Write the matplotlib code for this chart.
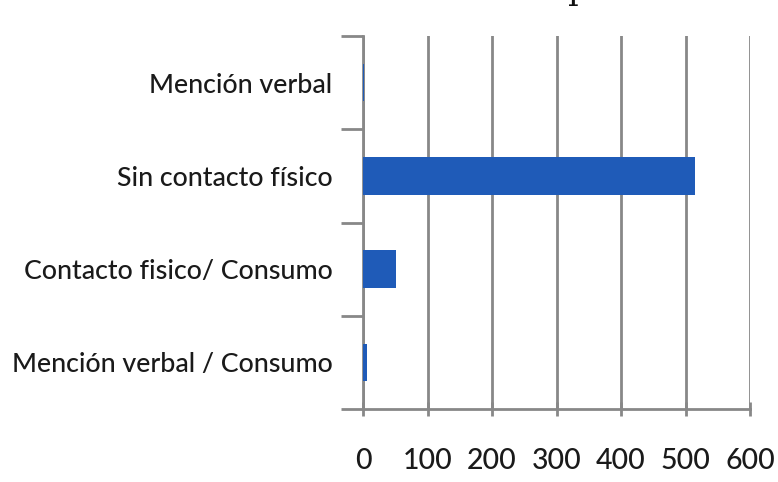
import matplotlib
matplotlib.use("Agg")
import matplotlib.pyplot as plt

categories = ["Mención verbal", "Sin contacto físico", "Contacto fisico/ Consumo", "Mención verbal / Consumo"]
values = [2, 514, 51, 6]
xticks = [0, 100, 200, 300, 400, 500, 600]

plt.rcParams['font.family'] = ['Lato', 'DejaVu Sans']

fig = plt.figure(figsize=(7.78, 4.82), dpi=100)
W, H = 778, 482
ax = fig.add_axes([363 / W, 1 - 409 / H, (750 - 363) / W, (409 - 36) / H])

n = len(categories)
pos = list(range(n))
ax.barh(pos, values, height=0.4, color='#1F5BB8', zorder=3)
ax.set_ylim(n - 0.5, -0.5)
ax.set_xlim(0, 600)

ax.set_xticks(xticks)
ax.set_xticklabels([str(v) for v in xticks], fontsize=20.5, color='#1a1a1a', fontweight='medium')
ax.set_yticks(pos)
ax.set_yticklabels(categories, fontsize=19.3, color='#1a1a1a', fontweight='medium')
ax.tick_params(axis='y', length=0, pad=22)
ax.tick_params(axis='x', length=10, width=2, color='#888888', pad=23, direction='inout')

# category boundary ticks on y axis
bounds = [i - 0.5 for i in range(n + 1)]
ax.set_yticks(bounds, minor=True)
ax.tick_params(axis='y', which='minor', length=16, width=2, color='#888888', direction='out')

ax.grid(axis='x', color='#888888', linewidth=2, zorder=0)
for s in ['top', 'right']:
    ax.spines[s].set_visible(False)
for s in ['left', 'bottom']:
    ax.spines[s].set_color('#888888')
    ax.spines[s].set_linewidth(2)

# clipped remnant of title at top (only the descender is visible)
fig.text(568 / W, 1 + 1 / H, 'p', fontsize=24, family='DejaVu Serif', color='#111111',
         va='baseline', ha='left')

fig.savefig('out.png', dpi=100)
